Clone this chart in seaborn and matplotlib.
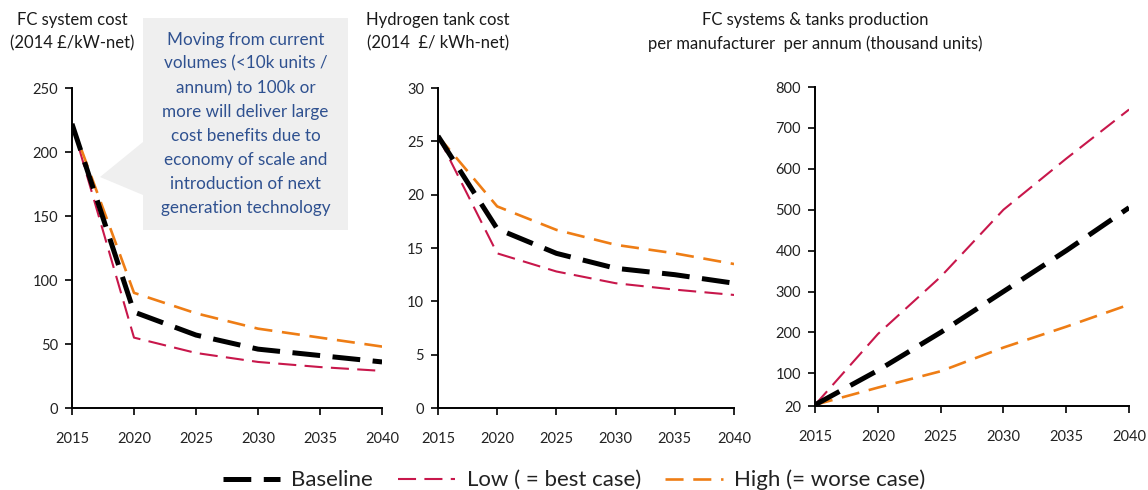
import numpy as np
import pandas as pd
import matplotlib
matplotlib.use("Agg")
import matplotlib.pyplot as plt
from matplotlib.patches import Polygon
from matplotlib.lines import Line2D
import seaborn as sns

sns.set_theme(style="white")
plt.rcParams["font.family"] = ["Lato", "DejaVu Sans"]
plt.rcParams["lines.scale_dashes"] = False

years = [2015, 2020, 2025, 2030, 2035, 2040]

# FC system cost (2014 GBP / kW-net)
fc_baseline = [222, 75, 57, 46, 41, 36]
fc_low = [222, 55, 43, 36, 32, 29]
fc_high = [222, 90, 74, 62, 55, 48]

# Hydrogen tank cost (2014 GBP / kWh-net)
tank_baseline = [25.5, 16.8, 14.5, 13.1, 12.5, 11.7]
tank_low = [25.5, 14.5, 12.8, 11.7, 11.1, 10.6]
tank_high = [25.5, 18.9, 16.7, 15.3, 14.5, 13.5]

# Production per manufacturer per annum (thousand units)
prod_baseline = [23, 107, 200, 300, 400, 505]
prod_low = [23, 196, 336, 500, 625, 745]
prod_high = [23, 65, 105, 163, 214, 268]

scenarios = ["Baseline", "Low ( = best case)", "High (= worse case)"]

colors = {"Baseline": "#000000", "Low ( = best case)": "#C8174B", "High (= worse case)": "#EE7D15"}
widths = {"Baseline": 3.6, "Low ( = best case)": 1.5, "High (= worse case)": 1.9}
dash_pat = {"Baseline": (20, 9), "Low ( = best case)": (13, 6), "High (= worse case)": (13, 7)}


def long_table(base, low, high):
    return pd.DataFrame({
        "year": years * 3,
        "value": list(base) + list(low) + list(high),
        "scenario": [scenarios[0]] * 6 + [scenarios[1]] * 6 + [scenarios[2]] * 6,
    })


panels = [
    (long_table(fc_baseline, fc_low, fc_high), [0.0627, 0.1673, 0.2701, 0.6531],
     (0, 250), [0, 50, 100, 150, 200, 250], "FC system cost\n(2014 £/kW-net)"),
    (long_table(tank_baseline, tank_low, tank_high), [0.3815, 0.1673, 0.2579, 0.6531],
     (0, 30), [0, 5, 10, 15, 20, 25, 30], "Hydrogen tank cost\n(2014  £/ kWh-net)"),
    (long_table(prod_baseline, prod_low, prod_high), [0.7100, 0.1714, 0.2735, 0.6510],
     (20, 800), [20, 100, 200, 300, 400, 500, 600, 700, 800],
     "FC systems & tanks production\nper manufacturer  per annum (thousand units)"),
]

fig = plt.figure(figsize=(11.48, 4.9), dpi=100)

for df, rect, ylim, yticks, title in panels:
    ax = fig.add_axes(rect)
    # draw the low and high cases first so the baseline sits on top
    for name in [scenarios[1], scenarios[2], scenarios[0]]:
        sub = df[df["scenario"] == name]
        sns.lineplot(data=sub, x="year", y="value", ax=ax, color=colors[name],
                     linewidth=widths[name], legend=False)
        ax.lines[-1].set_dashes(dash_pat[name])
    ax.set_xlim(2015, 2040)
    ax.set_ylim(*ylim)
    ax.set_xticks(years)
    ax.set_yticks(yticks)
    ax.set_xlabel("")
    ax.set_ylabel("")
    for side in ["top", "right"]:
        ax.spines[side].set_visible(False)
    for side in ["left", "bottom"]:
        ax.spines[side].set_color("black")
        ax.spines[side].set_linewidth(1.4)
    ax.tick_params(axis="both", which="major", direction="out", length=5, width=1.2,
                   color="black", labelsize=10.5, labelcolor="#222222",
                   bottom=True, left=True)
    ax.tick_params(axis="x", pad=12)
    ax.tick_params(axis="y", pad=5)
    x_spine = rect[0]
    fig.text(x_spine, 0.935, title, ha="center", va="center", fontsize=12,
             color="#1a1a1a", linespacing=1.55)

# callout box with pointer
fw, fh = 1148, 490
pts = [(143, 18), (348, 18), (348, 230), (143, 230), (143, 195), (100, 177), (143, 142)]
callout = Polygon([(x / fw, 1 - y / fh) for x, y in pts], closed=True,
                  transform=fig.transFigure, facecolor="#EFEFEF", edgecolor="none", zorder=5)
fig.patches.append(callout)
fig.text(245.5 / fw, 1 - 124 / fh,
         "Moving from current\nvolumes (<10k units /\nannum) to 100k or\nmore will deliver large\n"
         "cost benefits due to\neconomy of scale and\nintroduction of next\ngeneration technology",
         ha="center", va="center", fontsize=12.3, color="#2F5190", linespacing=1.62, zorder=6)

handles = [Line2D([], [], color=colors[s], linewidth=widths[s], dashes=dash_pat[s]) for s in scenarios]
fig.legend(handles, scenarios, loc="center", bbox_to_anchor=(0.5, 1 - 480 / fh), ncol=3,
           frameon=False, fontsize=16, handlelength=2.6, columnspacing=1.1, handletextpad=0.5,
           labelcolor="#222222")

fig.savefig("out.png", dpi=100)
